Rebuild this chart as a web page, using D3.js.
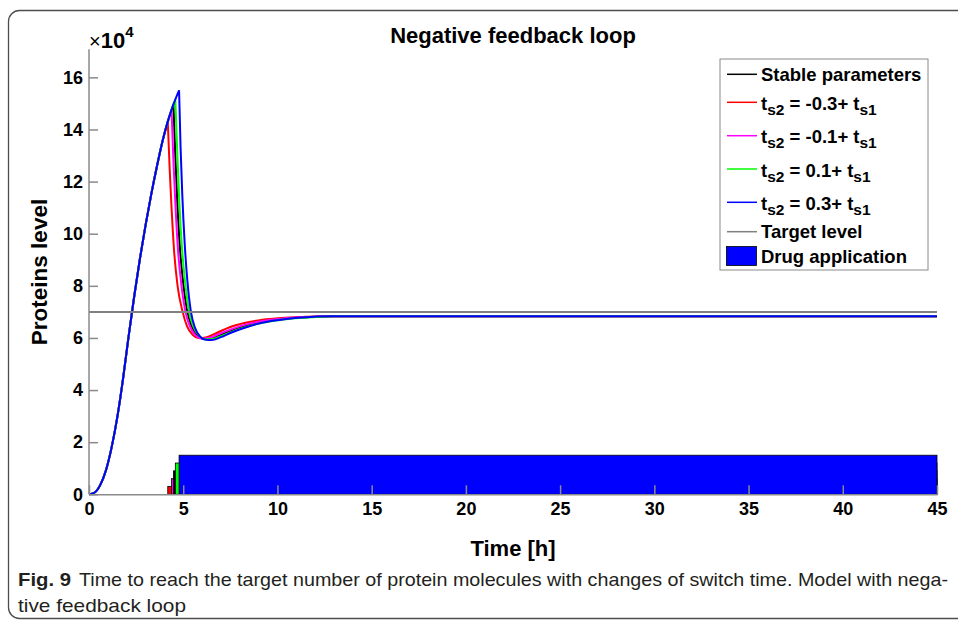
<!DOCTYPE html>
<html>
<head>
<meta charset="utf-8">
<script src="https://cdn.jsdelivr.net/npm/d3@7"></script>
<style>
  html, body { margin: 0; padding: 0; background: #fff; }
  svg { display: block; }
  text { font-family: "Liberation Sans", Arial, Helvetica, sans-serif; }
</style>
</head>
<body>
<svg id="chart" width="958" height="624"></svg>
<script>
// Protein level (×10^4) while the drug is switched on at different times.
const xTicks = [0, 5, 10, 15, 20, 25, 30, 35, 40, 45];
const yTicks = [0, 2, 4, 6, 8, 10, 12, 14, 16];

// Common growth phase before any switching
const riseT = [0, 0.3, 0.6, 0.9, 1.2, 1.5, 1.8, 2.1, 2.4, 2.7, 3.0, 3.3, 3.6, 3.9, 4.18, 4.38, 4.48, 4.58, 4.78];
const riseV = [0, 0.07, 0.36, 0.92, 1.8, 2.95, 4.4, 6.05, 7.6, 9.03, 10.32, 11.5, 12.57, 13.55, 14.3, 14.75, 14.96, 15.15, 15.5];

// Response after the switch, one series per switch time
const seriesNames = ["Stable parameters", "-0.3", "-0.1", "0.1", "0.3"];
const seriesColors = ["#000000", "#ff0000", "#ff00ff", "#00ff00", "#0000ff"];
const switchTimes = [4.48, 4.18, 4.38, 4.58, 4.78];

const stableT = [4.48, 4.58, 4.68, 4.82, 5.0, 5.22, 5.45, 5.75, 6.05, 6.45, 7.0, 7.7, 8.5, 9.4, 10.4, 11.7, 13.0, 45];
const stableV = [14.96, 13.0, 11.3, 9.5, 8.1, 7.0, 6.45, 6.1, 5.97, 5.98, 6.12, 6.32, 6.5, 6.64, 6.74, 6.8, 6.83, 6.83];
const redT = [4.18, 4.28, 4.38, 4.52, 4.7, 4.97, 5.2, 5.5, 5.8, 6.2, 6.8, 7.5, 8.3, 9.2, 10.2, 11.5, 13.0, 45];
const redV = [14.3, 12.5, 11.0, 9.3, 8.0, 7.0, 6.45, 6.12, 6.0, 6.02, 6.2, 6.42, 6.58, 6.7, 6.77, 6.81, 6.83, 6.83];
const magentaT = [4.38, 4.48, 4.58, 4.72, 4.9, 5.12, 5.35, 5.65, 5.95, 6.35, 6.9, 7.6, 8.4, 9.3, 10.3, 11.6, 13.0, 45];
const magentaV = [14.75, 12.8, 11.2, 9.4, 8.05, 7.0, 6.45, 6.1, 5.98, 6.0, 6.15, 6.35, 6.53, 6.66, 6.75, 6.8, 6.83, 6.83];
const greenT = [4.58, 4.68, 4.78, 4.92, 5.1, 5.31, 5.55, 5.85, 6.15, 6.55, 7.1, 7.8, 8.6, 9.5, 10.5, 11.8, 13.2, 45];
const greenV = [15.15, 13.2, 11.4, 9.6, 8.15, 7.0, 6.42, 6.08, 5.95, 5.96, 6.1, 6.3, 6.48, 6.62, 6.73, 6.79, 6.83, 6.83];
const blueT = [4.78, 4.86, 4.95, 5.08, 5.22, 5.41, 5.62, 5.9, 6.2, 6.5, 7.0, 7.5, 8.3, 9.0, 10.0, 11.3, 12.8, 45];
const blueV = [15.5, 13.3, 11.5, 9.6, 8.2, 7.0, 6.4, 6.05, 5.93, 5.92, 6.03, 6.19, 6.4, 6.55, 6.68, 6.78, 6.83, 6.83];

const fallT = [stableT, redT, magentaT, greenT, blueT];
const fallV = [stableV, redV, magentaV, greenV, blueV];

const targetLevel = 7;
const drugLevels = [0.9, 0.3, 0.6, 1.2, 1.5];  // bar height per series
const drugEnd = 45;

const svg = d3.select("#chart");

// Figure frame
svg.append("rect")
  .attr("x", 8.5).attr("y", 10.5)
  .attr("width", 990).attr("height", 608)
  .attr("rx", 11).attr("ry", 11)
  .attr("fill", "none").attr("stroke", "#4d4d4d").attr("stroke-width", 1.3);

const x = d3.scaleLinear().domain([0, 45]).range([89, 937]);
const y = d3.scaleLinear().domain([0, 17]).range([494.3, 51.3]);

const axisColor = "#8a8a8a";

const gBars = svg.append("g");

// Curves: growth segment up to the switch, then the response segment
const line = d3.line().x(d => x(d[0])).y(d => y(d[1])).curve(d3.curveMonotoneX);
const gLines = svg.append("g");
[0, 1, 2, 3, 4].forEach(i => {
  const s = switchTimes[i];
  const rise = riseT.map((t, k) => [t, riseV[k]]).filter(d => d[0] <= s + 1e-9);
  const fall = fallT[i].map((t, k) => [t, fallV[i][k]]);
  const p = line(rise) + line(fall).replace(/^M/, "L");
  gLines.append("path")
    .attr("d", p)
    .attr("fill", "none")
    .attr("stroke", seriesColors[i])
    .attr("stroke-width", 2)
    .attr("stroke-linejoin", "miter");
});

// Target level
svg.append("line")
  .attr("x1", x(0)).attr("x2", x(45))
  .attr("y1", y(targetLevel)).attr("y2", y(targetLevel))
  .attr("stroke", "#808080").attr("stroke-width", 2);

// Drug application bars (later switch times cover earlier ones)
[1, 2, 0, 3, 4].forEach(i => {
  gBars.append("rect")
    .attr("x", x(switchTimes[i]))
    .attr("y", y(drugLevels[i]))
    .attr("width", x(drugEnd) - x(switchTimes[i]))
    .attr("height", y(0) - y(drugLevels[i]))
    .attr("fill", seriesColors[i])
    .attr("stroke", "#000").attr("stroke-width", 0.8);
});
gBars.raise();

// Axes: left and bottom only, ticks pointing inward
const xAxis = svg.append("g").attr("transform", `translate(0,${y(0)})`)
  .call(d3.axisBottom(x).tickValues(xTicks).tickSizeInner(-9).tickSizeOuter(0).tickPadding(8));
const yAxis = svg.append("g").attr("transform", `translate(${x(0)},0)`)
  .call(d3.axisLeft(y).tickValues(yTicks).tickSizeInner(-9).tickSizeOuter(0).tickPadding(6));
yAxis.select(".domain").attr("d", `M0,${y(17) - 2}V${y(0)}`);
[xAxis, yAxis].forEach(g => {
  g.attr("font-size", null).attr("font-family", null);
  g.select(".domain").attr("stroke", axisColor).attr("stroke-width", 1.5);
  g.selectAll(".tick line").attr("stroke", axisColor).attr("stroke-width", 1.5);
  g.selectAll(".tick text")
    .attr("fill", "#000")
    .style("font-size", "18px").style("font-weight", "bold")
    .style("font-family", '"Liberation Sans", Arial, sans-serif');
});

// Exponent label
const ex = svg.append("text").attr("x", 89).attr("y", 48).attr("fill", "#000");
ex.append("tspan").style("font-size", "20px").text("×");
ex.append("tspan").style("font-size", "22px").style("font-weight", "bold").text("10");
ex.append("tspan").style("font-size", "15px").style("font-weight", "bold").attr("dy", -11).text("4");

// Title and axis labels
svg.append("text").attr("x", 513).attr("y", 43).attr("text-anchor", "middle")
  .style("font-size", "22px").style("font-weight", "bold").text("Negative feedback loop");
svg.append("text").attr("x", 513).attr("y", 556).attr("text-anchor", "middle")
  .style("font-size", "22px").style("font-weight", "bold").text("Time [h]");
svg.append("text").attr("transform", "translate(47,272) rotate(-90)").attr("text-anchor", "middle")
  .style("font-size", "22.5px").style("font-weight", "bold").text("Proteins level");

// Legend
const lg = svg.append("g");
lg.append("rect").attr("x", 720).attr("y", 59).attr("width", 208).attr("height", 211)
  .attr("fill", "#fff").attr("stroke", "#8a8a8a").attr("stroke-width", 1);
const rowY = [74.3, 102.3, 135.7, 169, 202.3, 231.7, 256];
const legendItems = [
  { color: seriesColors[0], kind: "line", label: seriesNames[0] },
  { color: seriesColors[1], kind: "sub", label: seriesNames[1] },
  { color: seriesColors[2], kind: "sub", label: seriesNames[2] },
  { color: seriesColors[3], kind: "sub", label: seriesNames[3] },
  { color: seriesColors[4], kind: "sub", label: seriesNames[4] },
  { color: "#808080", kind: "line", label: "Target level" },
  { color: "#0000ff", kind: "box", label: "Drug application" }
];
legendItems.forEach((it, i) => {
  const yy = rowY[i];
  if (it.kind === "box") {
    lg.append("rect").attr("x", 726.5).attr("y", yy - 9.5).attr("width", 30).attr("height", 19)
      .attr("fill", it.color).attr("stroke", "#000").attr("stroke-width", 0.8);
  } else {
    lg.append("line").attr("x1", 727).attr("x2", 757).attr("y1", yy).attr("y2", yy)
      .attr("stroke", it.color).attr("stroke-width", 1.5);
  }
  const t = lg.append("text").attr("x", 761).style("font-weight", "bold").style("font-size", "18.5px").attr("fill", "#000");
  if (it.kind === "sub") {
    t.attr("y", yy + 7.5);
    t.append("tspan").text("t");
    t.append("tspan").style("font-size", "15.5px").attr("dy", 5).text("s2");
    t.append("tspan").attr("dy", -5).text(` = ${it.label}+ t`);
    t.append("tspan").style("font-size", "15.5px").attr("dy", 5).text("s1");
  } else {
    t.attr("y", yy + 6.5).text(it.label);
  }
});

// Caption
const capFont = '"Liberation Sans Narrow", "Liberation Sans", Arial, sans-serif';
svg.append("text").attr("x", 18).attr("y", 586).style("font-size", "19px").style("font-weight", "bold")
  .attr("fill", "#231f20").style("font-family", capFont)
  .attr("textLength", 53).attr("lengthAdjust", "spacingAndGlyphs").text("Fig. 9");
svg.append("text").attr("x", 79).attr("y", 586).style("font-size", "19px")
  .attr("fill", "#231f20").style("font-family", capFont)
  .attr("textLength", 869).attr("lengthAdjust", "spacingAndGlyphs")
  .text("Time to reach the target number of protein molecules with changes of switch time. Model with nega-");
svg.append("text").attr("x", 18).attr("y", 612).style("font-size", "19px")
  .attr("fill", "#231f20").style("font-family", capFont)
  .attr("textLength", 168).attr("lengthAdjust", "spacingAndGlyphs")
  .text("tive feedback loop");
</script>
</body>
</html>
